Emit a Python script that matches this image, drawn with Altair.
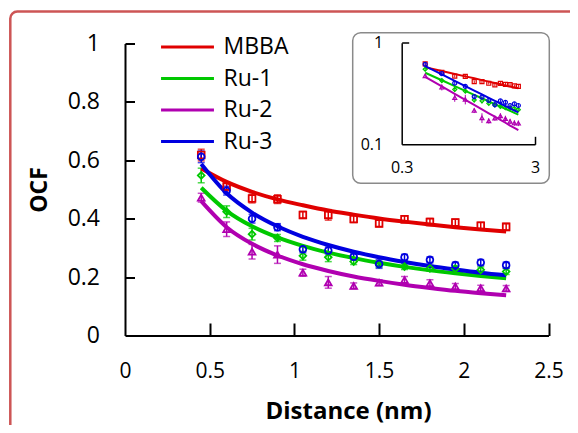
import altair as alt
import pandas as pd

series = ["MBBA", "Ru-1", "Ru-2", "Ru-3"]
colors = ["#e00000", "#00c800", "#b000b0", "#0000e0"]
shapes = ["square", "diamond", "triangle-up", "circle"]

distance = [0.45, 0.6, 0.75, 0.9, 1.05, 1.2, 1.35, 1.5, 1.65, 1.8, 1.95, 2.1, 2.25]

ocf_mbba = [0.618, 0.510, 0.469, 0.467, 0.413, 0.413, 0.399, 0.384, 0.398, 0.389, 0.387, 0.376, 0.372]
ocf_ru1 = [0.548, 0.424, 0.347, 0.334, 0.273, 0.268, 0.253, 0.244, 0.236, 0.230, 0.229, 0.225, 0.219]
ocf_ru2 = [0.472, 0.364, 0.287, 0.277, 0.215, 0.182, 0.170, 0.181, 0.190, 0.179, 0.168, 0.162, 0.161]
ocf_ru3 = [0.612, 0.496, 0.400, 0.371, 0.295, 0.291, 0.270, 0.245, 0.268, 0.259, 0.241, 0.250, 0.241]

err_mbba = [0.020, 0.015, 0.015, 0.015, 0.012, 0.018, 0.012, 0.012, 0.012, 0.012, 0.012, 0.012, 0.012]
err_ru1 = [0.025, 0.020, 0.020, 0.012, 0.015, 0.015, 0.010, 0.010, 0.010, 0.010, 0.010, 0.010, 0.010]
err_ru2 = [0.015, 0.025, 0.025, 0.030, 0.012, 0.020, 0.010, 0.010, 0.012, 0.012, 0.010, 0.010, 0.010]
err_ru3 = [0.020, 0.015, 0.015, 0.012, 0.012, 0.012, 0.010, 0.015, 0.010, 0.010, 0.010, 0.010, 0.010]

fit_mbba = [0.572, 0.526, 0.492, 0.466, 0.446, 0.428, 0.414, 0.401, 0.390, 0.380, 0.371, 0.363, 0.356]
fit_ru1 = [0.506, 0.427, 0.374, 0.336, 0.307, 0.284, 0.265, 0.249, 0.235, 0.223, 0.213, 0.204, 0.196]
fit_ru2 = [0.460, 0.371, 0.314, 0.274, 0.244, 0.221, 0.202, 0.187, 0.174, 0.163, 0.153, 0.145, 0.138]
fit_ru3 = [0.587, 0.487, 0.421, 0.374, 0.338, 0.310, 0.287, 0.268, 0.252, 0.238, 0.226, 0.215, 0.206]

x_ticks = [0, 0.5, 1, 1.5, 2, 2.5]
y_ticks = [0, 0.2, 0.4, 0.6, 0.8, 1]
inset_x_ticks = [0.3, 3]
inset_y_ticks = [0.1, 1]

rows = []
for name, o, e, f in zip(series, [ocf_mbba, ocf_ru1, ocf_ru2, ocf_ru3],
                         [err_mbba, err_ru1, err_ru2, err_ru3],
                         [fit_mbba, fit_ru1, fit_ru2, fit_ru3]):
    for xi, oi, ei, fi in zip(distance, o, e, f):
        rows.append({"series": name, "x": xi, "ocf": oi, "lo": oi - ei,
                     "hi": oi + ei, "fit": fi})
df = pd.DataFrame(rows)

FONT = "Open Sans"
W, H = 423.5, 292

legend = alt.Legend(orient="none", legendX=51, legendY=-8, title=None,
                    symbolType="M-5,0H5", symbolSize=112, symbolStrokeWidth=3,
                    labelFont=FONT, labelFontSize=23, labelColor="black",
                    labelOffset=24.5, rowPadding=7.5, padding=0, zindex=2)
color_enc = alt.Color("series:N", scale=alt.Scale(domain=series, range=colors), legend=legend)

base = alt.Chart(df)

# ---------- main plot ----------
xs = alt.Scale(domain=[0, 2.5], nice=False, zero=False)
ys = alt.Scale(domain=[0, 1], nice=False, zero=False)

main_x_axis = alt.Axis(values=x_ticks, format="~g", ticks=False, tickSize=0, grid=False,
                       domainColor="black", domainWidth=2, labelFont=FONT, labelFontSize=21,
                       labelColor="black", labelPadding=36, labelBaseline="middle",
                       labelFlush=False,
                       title="Distance (nm)", titleFont=FONT, titleFontSize=24,
                       titleFontWeight="bold", titleColor="black", titleX=223, titleY=75.5,
                       titleBaseline="middle", titleAlign="center", zindex=1)
main_y_axis = alt.Axis(values=y_ticks, format="~g", ticks=False, tickSize=0, grid=False,
                       domainColor="black", domainWidth=2, labelFont=FONT, labelFontSize=23,
                       labelColor="black", labelPadding=25.5, labelFlush=False,
                       title="OCF", titleFont=FONT, titleFontSize=23, titleFontWeight="bold",
                       titleColor="black", titleAngle=270, titleX=-86, titleY=146,
                       titleBaseline="middle", titleAlign="center", zindex=1)

X = alt.X("x:Q", scale=xs, axis=main_x_axis)

main_layers = []
for name, col, shp in zip(series, colors, shapes):
    sub = base.transform_filter(alt.datum.series == name)
    main_layers.append(sub.mark_rule(strokeWidth=1.5, color=col).encode(
        x=X, y=alt.Y("lo:Q", scale=ys, axis=main_y_axis), y2="hi:Q"))
    main_layers.append(sub.mark_tick(orient="horizontal", size=7, thickness=1.5, color=col).encode(
        x=X, y=alt.Y("lo:Q", scale=ys, axis=main_y_axis)))
    main_layers.append(sub.mark_tick(orient="horizontal", size=7, thickness=1.5, color=col).encode(
        x=X, y=alt.Y("hi:Q", scale=ys, axis=main_y_axis)))

fit_lines = base.mark_line(strokeWidth=4, interpolate="monotone").encode(
    x=X, y=alt.Y("fit:Q", scale=ys, axis=main_y_axis), color=color_enc, detail="series:N")
main_layers.append(fit_lines)

for name, col, shp in zip(series, colors, shapes):
    sub = base.transform_filter(alt.datum.series == name)
    main_layers.append(sub.mark_point(filled=False, size=45, strokeWidth=1.8, opacity=1,
                                      color=col, shape=shp).encode(
        x=X, y=alt.Y("ocf:Q", scale=ys, axis=main_y_axis)))

main_content = alt.layer(*main_layers)

tick_df = pd.DataFrame({"x": [1.0], "ocf": [0.5]})
main_ticks = alt.Chart(tick_df).mark_point(opacity=0).encode(
    x=alt.X("x:Q", scale=xs,
            axis=alt.Axis(orient="top", offset=-H, values=x_ticks[1:], labels=False,
                          domain=False, tickSize=12.5, tickWidth=2, tickColor="black",
                          grid=False, title=None, zindex=1)),
    y=alt.Y("ocf:Q", scale=ys,
            axis=alt.Axis(orient="right", offset=-W, values=y_ticks[1:], labels=False,
                          domain=False, tickSize=9.5, tickWidth=2, tickColor="black",
                          grid=False, title=None, zindex=1)))

main = alt.layer(main_content, main_ticks).resolve_axis(x="independent", y="independent")

# ---------- inset (log-log) ----------
ixs = alt.Scale(type="log", domain=[0.3, 3], range=[276.7, 410], nice=False)
iys = alt.Scale(type="log", domain=[0.1, 1], range=[100.8, -0.8], nice=False)

inset_x_axis = alt.Axis(orient="bottom", offset=-(H - 100.8), values=inset_x_ticks, format="~g",
                        ticks=False, tickSize=0, grid=False, domainColor="black",
                        domainWidth=1.5, labelFont=FONT, labelFontSize=16, labelColor="black",
                        labelPadding=23, labelBaseline="middle", labelFlush=False,
                        title=None, zindex=1)
inset_y_axis = alt.Axis(orient="left", offset=-276.7, values=inset_y_ticks, format="~g",
                        ticks=False, tickSize=0, grid=False, domainColor="black",
                        domainWidth=1.5, labelFont=FONT, labelFontSize=16, labelColor="black",
                        labelPadding=19, labelFlush=False, title=None, zindex=1)
IX = alt.X("x:Q", scale=ixs, axis=inset_x_axis)

inset_layers = []
for name, col, shp in zip(series, colors, shapes):
    sub = base.transform_filter(alt.datum.series == name)
    inset_layers.append(sub.mark_rule(strokeWidth=1, color=col).encode(
        x=IX, y=alt.Y("lo:Q", scale=iys, axis=inset_y_axis), y2="hi:Q"))
    inset_layers.append(sub.mark_line(strokeWidth=2, color=col).encode(
        x=IX, y=alt.Y("fit:Q", scale=iys, axis=inset_y_axis)))
    inset_layers.append(sub.mark_point(filled=False, size=16, strokeWidth=1.2, opacity=1,
                                       color=col, shape=shp).encode(
        x=IX, y=alt.Y("ocf:Q", scale=iys, axis=inset_y_axis)))
inset_content = alt.layer(*inset_layers)

inset_ticks = alt.Chart(tick_df).mark_point(opacity=0).encode(
    x=alt.X("x:Q", scale=ixs,
            axis=alt.Axis(orient="top", offset=-100.8, values=[3], labels=False,
                          domain=False, tickSize=8, tickWidth=1.5, tickColor="black",
                          grid=False, title=None, zindex=1)),
    y=alt.Y("ocf:Q", scale=iys,
            axis=alt.Axis(orient="right", offset=-(W - 276.7), values=[1], labels=False,
                          domain=False, tickSize=7, tickWidth=1.5, tickColor="black",
                          grid=False, title=None, zindex=1)))
inset = alt.layer(inset_content, inset_ticks).resolve_axis(x="independent", y="independent")

# ---------- frames ----------
one = pd.DataFrame({"k": [0]})
outer_frame = alt.Chart(one).mark_rect(fillOpacity=0, stroke="#cd5555", strokeWidth=2.5,
                                       cornerRadius=7).encode(
    x=alt.value(-114.7), x2=alt.value(560), y=alt.value(-32), y2=alt.value(460))
inset_frame = alt.Chart(one).mark_rect(fillOpacity=0, stroke="#8a8a8a", strokeWidth=1.5,
                                       cornerRadius=8).encode(
    x=alt.value(227.7), x2=alt.value(424.3), y=alt.value(-10.8), y2=alt.value(139.8))

chart = alt.layer(outer_frame, main, inset_frame, inset).resolve_scale(
    x="independent", y="independent"
).properties(
    width=W, height=H,
    autosize=alt.AutoSizeParams(type="none"),
    padding={"left": 117, "top": 35.5, "right": 21.5, "bottom": 89.5},
    background="white",
).configure_view(strokeWidth=0)

chart.save("out.html", embed_options={"renderer": "svg", "actions": False})
